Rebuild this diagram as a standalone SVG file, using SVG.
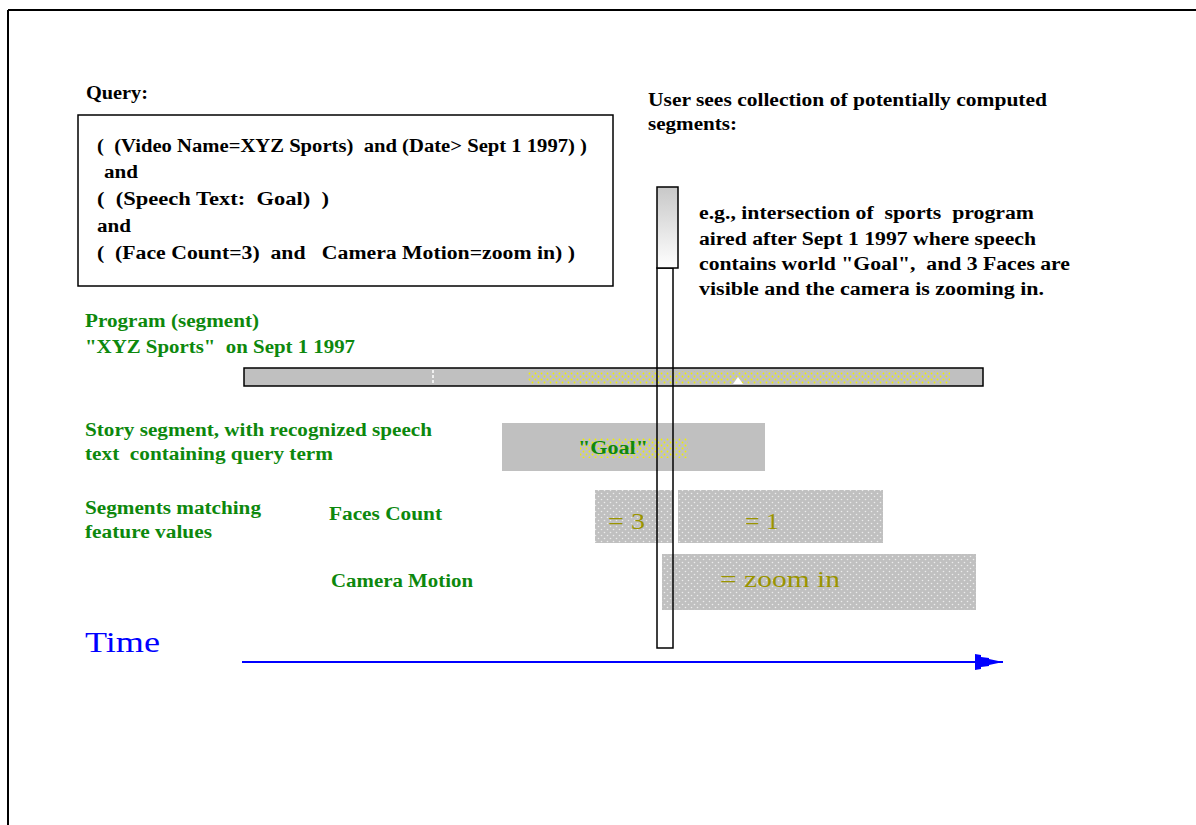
<svg xmlns="http://www.w3.org/2000/svg" width="1196" height="825" viewBox="0 0 1196 825">
<style>
text{white-space:pre}
.t{font-family:"Liberation Serif","Times New Roman",serif;font-weight:bold;font-size:18px;fill:#000}
.g{font-family:"Liberation Serif","Times New Roman",serif;font-weight:bold;font-size:18px;fill:#0d880d}
.o{font-family:"Liberation Serif","Times New Roman",serif;font-size:24px;fill:#9a9400}
</style>
<defs>
<pattern id="gdot" width="6" height="6" patternUnits="userSpaceOnUse">
<rect width="6" height="6" fill="#c0c0c0"/>
<circle cx="1.5" cy="1.5" r="0.8" fill="#ececec"/>
<circle cx="4.5" cy="4.5" r="0.8" fill="#ececec"/>
</pattern>
<pattern id="ydot" width="6" height="6" patternUnits="userSpaceOnUse">
<rect width="6" height="6" fill="#c0c0c0"/>
<circle cx="1.5" cy="1.5" r="0.9" fill="#f0f000"/>
<circle cx="4.5" cy="4.5" r="0.9" fill="#f0f000"/>
</pattern>
<linearGradient id="fade" x1="0" y1="0" x2="0" y2="1">
<stop offset="0" stop-color="#c8c8c8"/>
<stop offset="1" stop-color="#ffffff"/>
</linearGradient>
<marker id="arr" viewBox="0 0 30 20" refX="29" refY="10" markerWidth="30" markerHeight="20" markerUnits="userSpaceOnUse" orient="auto">
<path d="M1,2 L7,3 L7,5 L15,6 L15,7 L29,10 L15,13 L15,14 L7,15 L7,17 L1,18 Z" fill="#0000ff"/>
</marker>
</defs>

<g id="frame">
<line x1="8" y1="10" x2="1196" y2="10" stroke="#000" stroke-width="2"/>
<line x1="8" y1="10" x2="8" y2="825" stroke="#000" stroke-width="2"/>
</g>

<g id="query">
<text class="t" x="86" y="99" textLength="62" lengthAdjust="spacingAndGlyphs">Query:</text>
<rect x="78" y="115" width="535" height="171" fill="#fff" stroke="#000" stroke-width="1.5"/>
<text class="t" x="97" y="152" textLength="490" lengthAdjust="spacingAndGlyphs">(  (Video Name=XYZ Sports)  and (Date&gt; Sept 1 1997) )</text>
<text class="t" x="104" y="178" textLength="34" lengthAdjust="spacingAndGlyphs">and</text>
<text class="t" x="97" y="205" textLength="232" lengthAdjust="spacingAndGlyphs">(  (Speech Text:  Goal)  )</text>
<text class="t" x="97" y="232" textLength="34" lengthAdjust="spacingAndGlyphs">and</text>
<text class="t" x="97" y="259" textLength="478" lengthAdjust="spacingAndGlyphs">(  (Face Count=3)  and   Camera Motion=zoom in) )</text>
</g>

<g id="user-sees">
<text class="t" x="648" y="106" textLength="399" lengthAdjust="spacingAndGlyphs">User sees collection of potentially computed</text>
<text class="t" x="648" y="130" textLength="89" lengthAdjust="spacingAndGlyphs">segments:</text>
</g>

<g id="example">
<text class="t" x="699" y="219" textLength="335" lengthAdjust="spacingAndGlyphs">e.g., intersection of  sports  program</text>
<text class="t" x="699" y="245" textLength="337" lengthAdjust="spacingAndGlyphs">aired after Sept 1 1997 where speech</text>
<text class="t" x="699" y="270" textLength="371" lengthAdjust="spacingAndGlyphs">contains world "Goal",  and 3 Faces are</text>
<text class="t" x="699" y="295" textLength="345" lengthAdjust="spacingAndGlyphs">visible and the camera is zooming in.</text>
</g>

<g id="program">
<text class="g" x="85" y="327" textLength="174" lengthAdjust="spacingAndGlyphs">Program (segment)</text>
<text class="g" x="85" y="353" textLength="270" lengthAdjust="spacingAndGlyphs">"XYZ Sports"  on Sept 1 1997</text>
<rect x="244" y="368" width="739" height="18" fill="#c0c0c0" stroke="#000" stroke-width="1.5"/>
<rect x="528" y="371" width="422" height="13" fill="url(#ydot)"/>
<line x1="433" y1="370" x2="433" y2="385" stroke="#fff" stroke-width="1.5" stroke-dasharray="3,2"/>
<path d="M733,384 L738,377 L743,384 Z" fill="#fff"/>
</g>

<g id="story">
<text class="g" x="85" y="436" textLength="347" lengthAdjust="spacingAndGlyphs">Story segment, with recognized speech</text>
<text class="g" x="85" y="460" textLength="248" lengthAdjust="spacingAndGlyphs">text  containing query term</text>
<rect x="502" y="423" width="263" height="48" fill="#c0c0c0"/>
<rect x="580" y="438" width="108" height="20" fill="url(#ydot)"/>
<text class="g" x="578" y="454" textLength="70" lengthAdjust="spacingAndGlyphs">"Goal"</text>
</g>

<g id="faces">
<text class="g" x="85" y="514" textLength="176" lengthAdjust="spacingAndGlyphs">Segments matching</text>
<text class="g" x="85" y="538" textLength="127" lengthAdjust="spacingAndGlyphs">feature values</text>
<text class="g" x="329" y="520" textLength="113" lengthAdjust="spacingAndGlyphs">Faces Count</text>
<rect x="595" y="490" width="78" height="53" fill="url(#gdot)"/>
<rect x="678" y="490" width="205" height="53" fill="url(#gdot)"/>
<text class="o" x="608" y="529" textLength="37" lengthAdjust="spacingAndGlyphs">= 3</text>
<text class="o" x="745" y="529" textLength="34" lengthAdjust="spacingAndGlyphs">= 1</text>
</g>

<g id="camera">
<text class="g" x="331" y="587" textLength="142" lengthAdjust="spacingAndGlyphs">Camera Motion</text>
<rect x="662" y="554" width="314" height="56" fill="url(#gdot)"/>
<text class="o" x="720" y="587" textLength="120" lengthAdjust="spacingAndGlyphs">= zoom in</text>
</g>

<g id="intersection">
<rect x="657" y="268" width="16" height="380" fill="none" stroke="#000" stroke-width="1.5"/>
<rect x="657" y="187" width="21" height="81" fill="url(#fade)" stroke="#000" stroke-width="1.5"/>
</g>

<g id="time">
<text x="85" y="652" font-family="Liberation Serif, Times New Roman, serif" font-size="29" fill="#0000ff" textLength="75" lengthAdjust="spacingAndGlyphs">Time</text>
</g>

<g id="connectors">
<line x1="242" y1="662" x2="1003" y2="662" stroke="#0000ff" stroke-width="2" marker-end="url(#arr)"/>
</g>
</svg>
